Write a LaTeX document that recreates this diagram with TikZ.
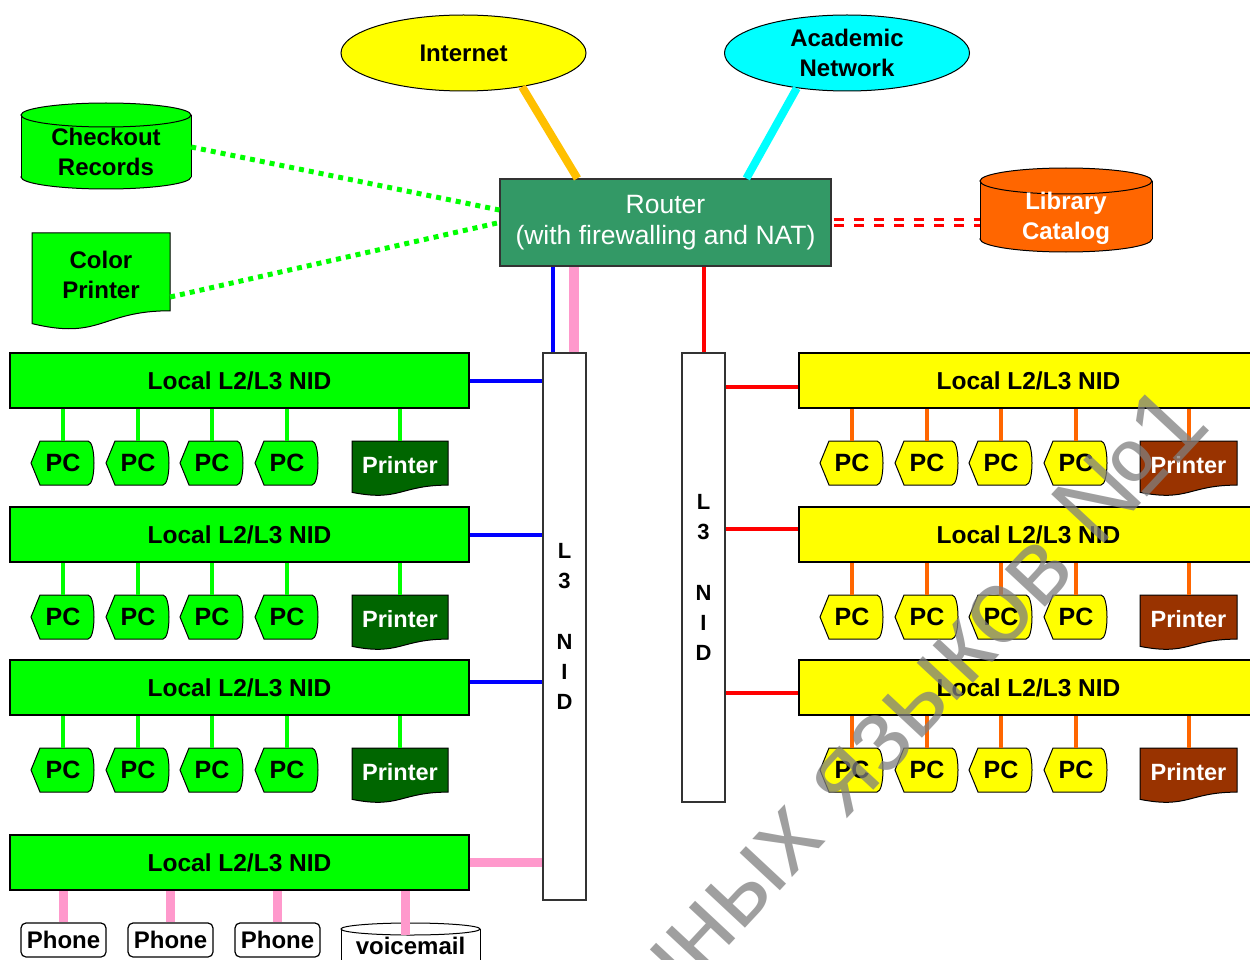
\documentclass[tikz,border=0pt]{standalone}
\usepackage{fontspec}
\setmainfont{Liberation Sans}
\usetikzlibrary{shapes.geometric}
\definecolor{gA}{HTML}{00FF00}
\definecolor{yA}{HTML}{FFFF00}
\definecolor{cA}{HTML}{00FFFF}
\definecolor{routerG}{HTML}{339966}
\definecolor{oA}{HTML}{FF6600}
\definecolor{goldA}{HTML}{FFC000}
\definecolor{pinkA}{HTML}{FF99CC}
\definecolor{prG}{HTML}{006600}
\definecolor{prB}{HTML}{993300}
\definecolor{edgeG}{HTML}{333333}
\newcommand\fsz[1]{\fontsize{#1}{30}\selectfont}
\newcommand\pcshape[2]{%
  \filldraw[fill=#2, draw=black, line width=1pt, shift={#1}] (-32,0) -- (-23,-22) -- (25,-22) .. controls (33,-22) and (33,22) .. (25,22) -- (-23,22) -- cycle;}
\newcommand\docshape[5]{%
  \filldraw[fill=#5, draw=black, line width=1pt, shift={(#1,#2)}] (0,0) -- (#3,0) -- (#3,{0.802*#4}) .. controls ({0.5*#3},{0.802*#4}) and ({0.5*#3},{1.107*#4}) .. (0,{0.934*#4}) -- cycle;}
\newcommand\cylshape[6]{%
  \filldraw[fill=#6, draw=black, line width=1pt] (#1,{#2+#4-#5}) ellipse [x radius={#3/2}, y radius=#5];
  \fill[#6] ({#1-#3/2},{#2+#5}) rectangle ({#1+#3/2},{#2+#4-#5});
  \draw[line width=1pt] ({#1-#3/2},{#2+#5}) -- ({#1-#3/2},{#2+#4-#5}) ({#1+#3/2},{#2+#5}) -- ({#1+#3/2},{#2+#4-#5});
  \filldraw[fill=#6, draw=black, line width=1pt] (#1,{#2+#5}) ellipse [x radius={#3/2}, y radius=#5];}
\begin{document}
\begin{tikzpicture}[x=1pt,y=-1pt,
  lnidbox/.style={draw=black, line width=1.2pt, minimum width=459pt, minimum height=55pt, inner sep=0pt, font=\bfseries\fsz{24.5}},
  pclabel/.style={minimum width=64pt, minimum height=44pt, inner sep=0pt, font=\bfseries\fsz{25}},
  prtlabel/.style={minimum width=96pt, minimum height=48pt, inner sep=0pt, text=white, font=\bfseries\fsz{23.5}},
  phonebox/.style={draw=black, fill=white, rounded corners=5pt, line width=1.2pt, minimum width=85pt, minimum height=34pt, inner sep=0pt, font=\bfseries\fsz{24}},
  cloud3/.style={ellipse, draw=black, line width=1pt, minimum width=245pt, minimum height=76pt, inner sep=0pt, align=center, font=\bfseries\fsz{24}},
  nidbox/.style={draw=edgeG, fill=white, line width=1.5pt, minimum width=43pt, inner sep=0pt, align=center, font=\bfseries\fsz{22}},
  labelonly/.style={inner sep=0pt, align=center, font=\bfseries\fsz{24}},
  glink/.style={draw=gA, line width=4pt},
  olink/.style={draw=oA, line width=4pt},
  plink/.style={draw=pinkA, line width=9pt},
  blink/.style={draw=blue, line width=4pt},
  rlink/.style={draw=red, line width=4pt},
  dotlink/.style={draw=gA, line width=5pt, dash pattern=on 5pt off 5pt},
  dbllink/.style={draw=red, line width=3pt, double=white, double distance=2.5pt, dash pattern=on 10pt off 10pt}
]
\useasboundingbox (0,0) rectangle (1250,960);
\clip (0,0) rectangle (1250,960);
\fill[white] (0,0) rectangle (1250,960);

% top clouds and router
\node[cloud3, fill=yA] (inet) at (463.5,53) {Internet};
\node[cloud3, fill=cA] (acad) at (847,53) {Academic\\Network};
\node[draw=edgeG, fill=routerG, line width=1.2pt, minimum width=331pt, minimum height=87pt, inner sep=0pt, text=white, align=center, font=\fontsize{26.5}{31}\selectfont] (router) at (665.5,222.5) {Router\\(with firewalling and NAT)};

% servers
\cylshape{106}{103}{170}{86}{12}{gA}
\node[labelonly] (chk) at (106,152) [minimum width=170pt] {Checkout\\Records};
\docshape{32}{233}{138}{97}{gA}
\node[labelonly, minimum width=138pt, minimum height=84pt] (cprint) at (101,275) {Color\\Printer};
\cylshape{1066}{168}{172}{84}{13}{oA}
\node[labelonly, text=white, minimum width=172pt] (lib) at (1066,218) {Library\\Catalog};

% links at top
\draw[goldA, line width=8pt] (inet.330) -- ([xshift=78pt]router.north west);
\draw[cA, line width=8pt] (acad.215) -- ([xshift=247pt]router.north west);
\draw[dotlink] ([yshift=5pt]chk.east) -- ([yshift=12.5pt]router.west);
\draw[dotlink] ([yshift=-22pt]cprint.east) -- (router.west);
\draw[dbllink] ([xshift=2pt]router.east) -- (router.east -| lib.west);

% L3 NIDs
\node[nidbox, minimum height=547pt] (nidL) at (564.5,626.5) {L\\3\\[31pt]N\\I\\D};
\node[nidbox, minimum height=449pt] (nidR) at (703.5,577.5) {L\\3\\[31pt]N\\I\\D};
\coordinate (bx) at ([xshift=11pt]nidL.north west);
\coordinate (px) at ([xshift=32pt]nidL.north west);
\draw[blink] (bx) -- (bx |- router.south);
\draw[draw=pinkA, line width=10pt] (px) -- (px |- router.south);
\draw[rlink] (nidR.north) -- (nidR.north |- router.south);

% left local NIDs
\foreach \r/\yy in {1/380.5, 2/534.5, 3/687.5} {
  \node[lnidbox, fill=gA] (L\r) at (239.5,\yy) {Local L2/L3 NID};
}
\foreach \r/\yy in {1/463, 2/617, 3/770} {
  \foreach \c/\xx in {1/63, 2/138, 3/212, 4/287} {
    \pcshape{(\xx,\yy)}{gA}
    \node[pclabel] (Lpc\r\c) at (\xx,\yy) {PC};
    \draw[glink] (Lpc\r\c.north) -- (Lpc\r\c.north |- L\r.south);
  }
  \docshape{352}{\yy-22}{96}{55}{prG}
  \node[prtlabel] (Lpr\r) at (400,\yy+2) {Printer};
  \draw[glink] (Lpr\r.north) -- (Lpr\r.north |- L\r.south);
}
\draw[blink] (L1.east) -- (L1.east -| nidL.west);
\draw[blink] (L2.east) -- (L2.east -| nidL.west);
\coordinate (b3) at ([yshift=5.5pt]L3.east);
\draw[blink] (b3) -- (b3 -| nidL.west);

% right local NIDs
\foreach \r/\yy in {1/380.5, 2/534.5, 3/687.5} {
  \node[lnidbox, fill=yA] (R\r) at (1028.5,\yy) {Local L2/L3 NID};
}
\foreach \r/\yy in {1/463, 2/617, 3/770} {
  \foreach \c/\xx in {1/852, 2/927, 3/1001, 4/1076} {
    \pcshape{(\xx,\yy)}{yA}
    \node[pclabel] (Rpc\r\c) at (\xx,\yy) {PC};
    \draw[olink] (Rpc\r\c.north) -- (Rpc\r\c.north |- R\r.south);
  }
  \docshape{1140}{\yy-22}{97}{55}{prB}
  \node[prtlabel] (Rpr\r) at (1188.5,\yy+2) {Printer};
  \draw[olink] (Rpr\r.north) -- (Rpr\r.north |- R\r.south);
}
\coordinate (r1) at ([yshift=-6pt]R1.west);
\coordinate (r2) at ([yshift=5.5pt]R2.west);
\coordinate (r3) at ([yshift=-5pt]R3.west);
\draw[rlink] (r1) -- (r1 -| nidR.east);
\draw[rlink] (r2) -- (r2 -| nidR.east);
\draw[rlink] (r3) -- (r3 -| nidR.east);

% phone NID
\node[lnidbox, fill=gA] (L4) at (239.5,862.5) {Local L2/L3 NID};
\draw[plink] (L4.east) -- (L4.east -| nidL.west);
\node[phonebox] (ph1) at (63.5,940) {Phone};
\node[phonebox] (ph2) at (170.5,940) {Phone};
\node[phonebox] (ph3) at (277.5,940) {Phone};
\cylshape{410.5}{923}{139}{60}{6}{white}
\node[labelonly, minimum width=139pt, minimum height=34pt] (vm) at (410.5,946) {voicemail};
\draw[plink] (ph1.north) -- (ph1.north |- L4.south);
\draw[plink] (ph2.north) -- (ph2.north |- L4.south);
\draw[plink] (ph3.north) -- (ph3.north |- L4.south);
\coordinate (vmt) at ([xshift=-5pt, yshift=-6pt]vm.north);
\draw[plink] (vmt) -- (vmt |- L4.south);

% watermark
\node[rotate=47, text=gray, opacity=0.75, inner sep=0pt, font=\fontsize{104}{104}\selectfont] (wm) at (912,698) {нных языков №1};
\end{tikzpicture}
\end{document}
